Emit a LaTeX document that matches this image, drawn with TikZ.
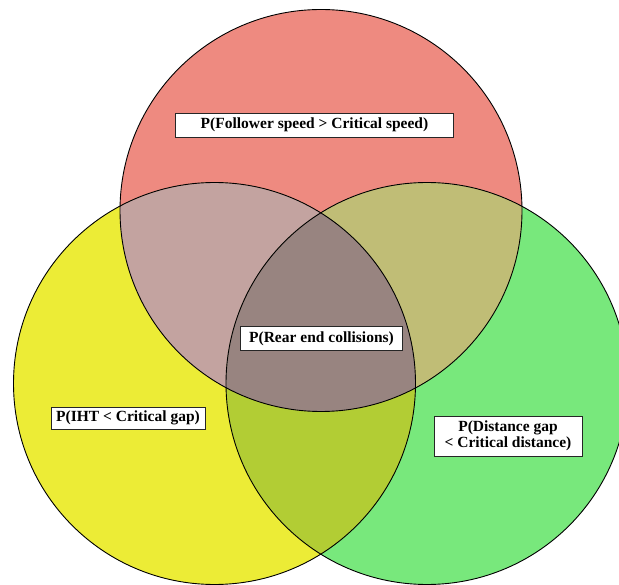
\documentclass[tikz,border=0pt]{standalone}
\usepackage{fontspec}
\setmainfont{Liberation Serif}
\usepackage{tikz}
\usetikzlibrary{positioning}
\definecolor{speedred}{RGB}{238,138,128}
\definecolor{gapyellow}{RGB}{236,236,54}
\definecolor{distgreen}{RGB}{120,232,124}
\definecolor{mixry}{RGB}{195,163,160}
\definecolor{mixrg}{RGB}{192,189,118}
\definecolor{mixyg}{RGB}{178,205,52}
\definecolor{mixall}{RGB}{152,132,128}

\begin{document}
\begin{tikzpicture}[
    x=1pt, y=-1pt,
    ring/.style={draw=black, line width=0.9pt},
    tagbox/.style={rectangle, draw=black!85, line width=0.7pt, fill=white, align=center, inner sep=3pt, font=\fontsize{15.5}{16.5}\selectfont\bfseries}
]
    \useasboundingbox (0,0) rectangle (619,585);
    \clip (0,0) rectangle (619,585);

    % circle centres
    \coordinate (cS) at (321,210.5);
    \coordinate (cG) at (214.5,383.5);
    \coordinate (cD) at (427,383.5);

    % single sets
    \fill[speedred] (cS) circle[radius=201pt];
    \fill[gapyellow] (cG) circle[radius=201pt];
    \fill[distgreen] (cD) circle[radius=201pt];

    % overlaps
    \begin{scope}
        \clip (cS) circle[radius=201pt];
        \fill[mixry] (cG) circle[radius=201pt];
        \fill[mixrg] (cD) circle[radius=201pt];
    \end{scope}
    \begin{scope}
        \clip (cG) circle[radius=201pt];
        \fill[mixyg] (cD) circle[radius=201pt];
    \end{scope}
    \begin{scope}
        \clip (cS) circle[radius=201pt];
        \clip (cG) circle[radius=201pt];
        \fill[mixall] (cD) circle[radius=201pt];
    \end{scope}

    \foreach \c in {cS,cG,cD}
        \draw[ring] (\c) circle[radius=201pt];

    % labels
    \node[tagbox, minimum width=278pt, minimum height=24pt] (speed) at (314.5,125) {P(Follower speed > Critical speed)};
    \node[tagbox, minimum width=162pt, minimum height=24pt] (rear) at (321.5,338.5) {P(Rear end collisions)};
    \node[tagbox, minimum width=154pt, minimum height=22pt] (iht) at (128,418) {P(IHT < Critical gap)};
    \node[tagbox, minimum width=148pt, minimum height=40pt] (dist) at (508,436) {P(Distance gap\\ < Critical distance)};
\end{tikzpicture}
\end{document}
